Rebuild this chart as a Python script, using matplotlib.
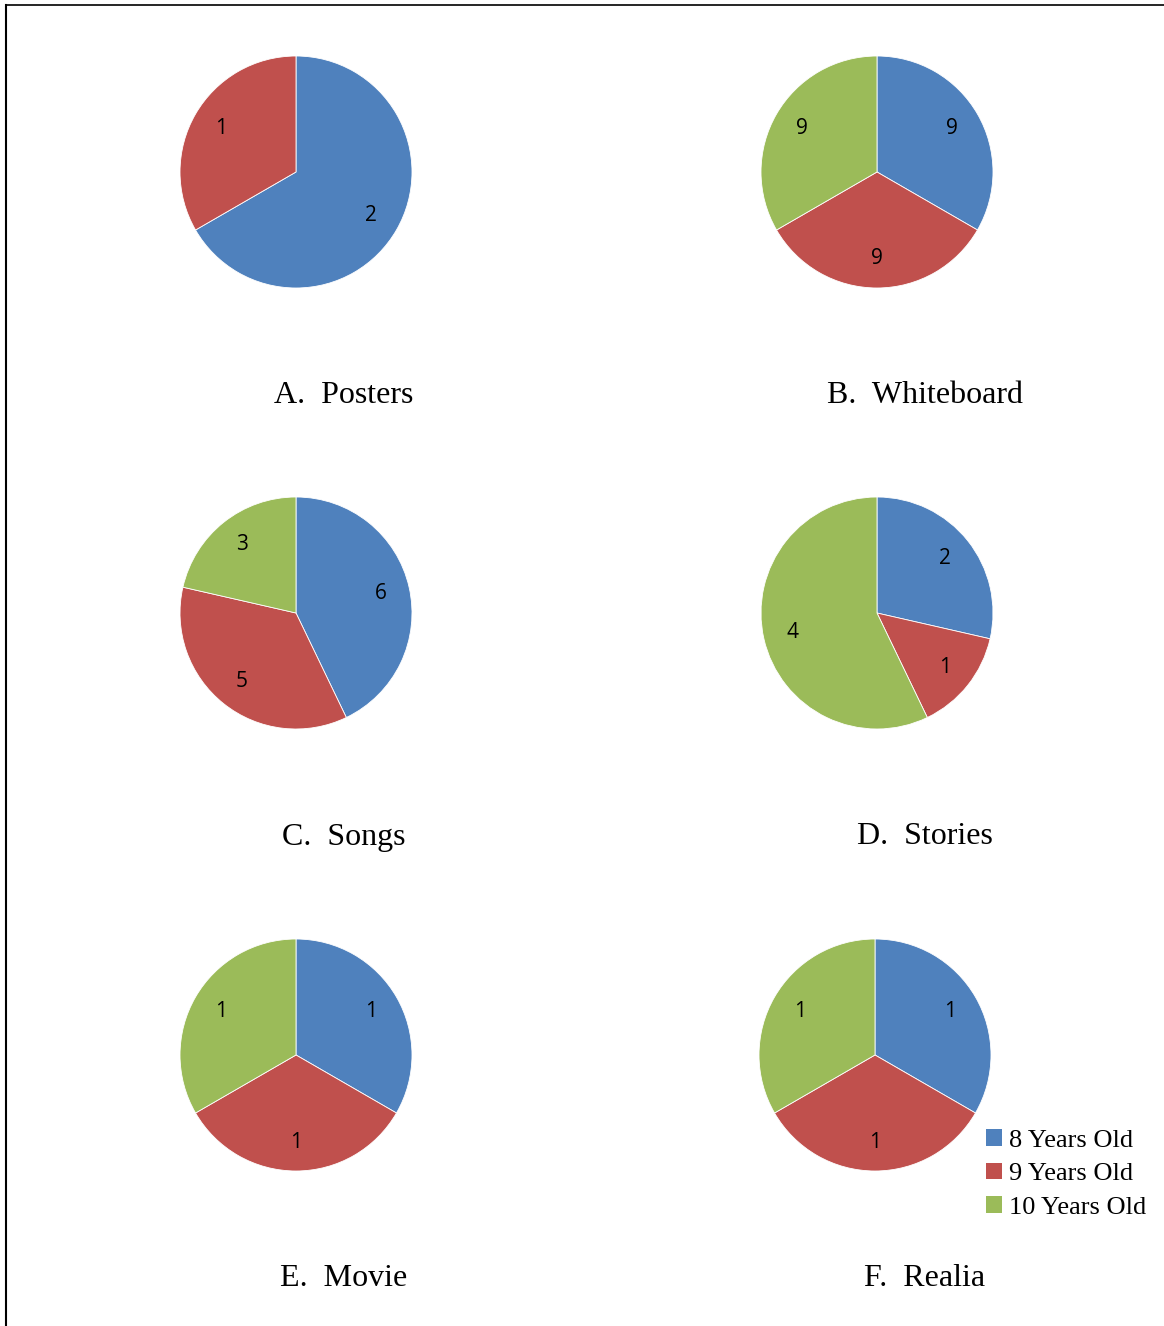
import matplotlib.pyplot as plt
from matplotlib.patches import Patch
from matplotlib.lines import Line2D

groups = ["8 Years Old", "9 Years Old", "10 Years Old"]
colors = ["#4F81BD", "#C0504D", "#9BBB59"]

titles = ["A.  Posters", "B.  Whiteboard", "C.  Songs",
          "D.  Stories", "E.  Movie", "F.  Realia"]
posters = [2, 1, 0]
whiteboard = [9, 9, 9]
songs = [6, 5, 3]
stories = [2, 1, 4]
movie = [1, 1, 1]
realia = [1, 1, 1]
values = [posters, whiteboard, songs, stories, movie, realia]

W, H = 1164, 1326
fig = plt.figure(figsize=(W / 100, H / 100), dpi=100)

centers = [(296, 172), (877, 172), (296, 613), (877, 613), (296, 1055), (875, 1055)]
title_pos = [(344, 393), (925, 393), (344, 835), (925, 835), (344, 1277), (925, 1277)]
R = 116

for vals, (cx, cy), title, (tx, ty) in zip(values, centers, titles, title_pos):
    ax = fig.add_axes([(cx - R) / W, 1 - (cy + R) / H, 2 * R / W, 2 * R / H])
    v = [x for x in vals if x > 0]
    c = [col for x, col in zip(vals, colors) if x > 0]
    wedges, texts = ax.pie(v, colors=c, startangle=90, counterclock=False,
                           labels=[str(x) for x in v], labeldistance=0.75,
                           wedgeprops=dict(edgecolor="white", linewidth=0.6),
                           textprops=dict(fontsize=15, family="Open Sans",
                                          ha="center", va="center"))
    ax.set_xlim(-1, 1)
    ax.set_ylim(-1, 1)
    ax.axis("off")
    fig.text(tx / W, 1 - (ty + 2) / H, title, ha="center", va="center",
             fontsize=23, family="Liberation Serif")

handles = [Patch(facecolor=col, edgecolor="none") for col in colors]
fig.legend(handles, groups, loc="center left",
           bbox_to_anchor=(973 / W, 1 - 1174 / H), frameon=False,
           prop=dict(family="Liberation Serif", size=19),
           handlelength=0.6, handleheight=0.6, handletextpad=0.25,
           labelspacing=0.42, borderpad=0)

# page border
fig.add_artist(Line2D([6 / W, 1], [1 - 5 / H, 1 - 5 / H], color="black", linewidth=1.2))
fig.add_artist(Line2D([6 / W, 6 / W], [1 - 5 / H, 0], color="black", linewidth=1.5))

fig.savefig("out.png", dpi=100, facecolor="white")
